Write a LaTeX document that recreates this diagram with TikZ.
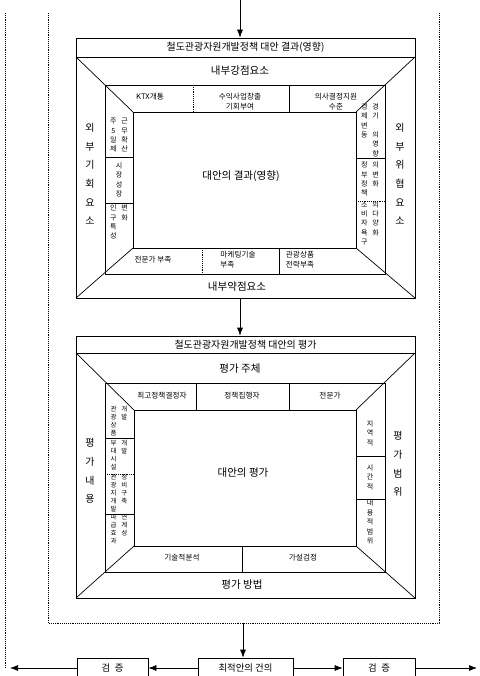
\documentclass[tikz,border=0pt]{standalone}
\usepackage{fontspec}
\setmainfont{Noto Sans CJK KR}
\usetikzlibrary{arrows.meta}

\newcommand{\vpair}[1]{\begin{tabular}{@{}c@{\hspace{4pt}}c@{}}#1\end{tabular}}

\tikzset{
  every node/.style={inner sep=0pt},
  frameline/.style={densely dotted},
  flow/.style={-{Latex[length=2.4mm,width=1.8mm]}},
  titletext/.style={font=\fontsize{8.5}{10}\selectfont},
  bandtext/.style={font=\fontsize{9}{11}\selectfont},
  subtext/.style={font=\fontsize{6.5}{8.5}\selectfont, align=center},
  vsmall/.style={font=\fontsize{6}{8}\selectfont, align=center},
  vtiny/.style={font=\fontsize{5.5}{6.7}\selectfont, align=center},
  vlabel/.style={font=\fontsize{8.5}{16}\selectfont, align=center},
  checkbox/.style={draw, minimum width=#1, minimum height=0.6cm, font=\fontsize{8}{10}\selectfont},
}

\begin{document}
\begin{tikzpicture}[x=0.03cm, y=-0.03cm, line width=0.6pt]
  \useasboundingbox (0,0) rectangle (480,676);

  % outer frames
  \draw[frameline] (5,13) -- (5,668);
  \draw[frameline] (48,13) -- (48,623) -- (439,623) -- (439,13);

  % block 1: result of the alternatives
  \draw (76,38) rectangle (415,298);
  \draw (76,57) -- (415,57);
  \draw (105,85) rectangle (385,274);
  \draw (133,112) rectangle (356,248);
  \draw (76,57) -- (133,112);
  \draw (415,57) -- (356,112);
  \draw (76,298) -- (133,248);
  \draw (415,298) -- (356,248);
  \draw[densely dotted] (193,85) -- (193,112);
  \draw (289,85) -- (289,112);
  \draw[densely dotted] (202,248) -- (202,274);
  \draw (279,248) -- (279,274);
  \draw (105,157) -- (133,157);
  \draw (105,203) -- (133,203);
  \draw (356,158) -- (385,158);
  \draw[densely dotted] (356,201) -- (385,201);

  \node[titletext, minimum width=10.17cm, minimum height=0.57cm] (title1) at (245.5,47.5) {철도관광자원개발정책 대안 결과(영향)};
  \node[bandtext] (strength) at (240,71) {내부강점요소};
  \node[bandtext] (weakness) at (237,287) {내부약점요소};
  \node[bandtext] (result) at (241,176) {대안의 결과(영향)};
  \node[vlabel] (chance) at (90,174) {외\\부\\기\\회\\요\\소};
  \node[vlabel] (threat) at (400,174) {외\\부\\위\\협\\요\\소};

  \node[subtext] (ktx) at (150,97) {KTX개통};
  \node[subtext] (profit) at (240,102) {수익사업창출\\기회부여};
  \node[subtext] (decide) at (336,102) {의사결정지원\\수준};
  \node[subtext] (expert1) at (153,260) {전문가 부족};
  \node[subtext, align=left] (market) at (238,260) {마케팅기술\\부족};
  \node[subtext, align=left] (goods) at (300,260) {관광상품\\전략부족};

  \node[vsmall] (week) at (119,136) {\vpair{주&근\\5&무\\일&확\\제&산}};
  \node[vsmall] (grow) at (119,180) {시\\장\\성\\장};
  \node[vsmall] (people) at (119,223) {\vpair{인&변\\구&화\\특&\\성&}};
  \node[vsmall] (econ) at (370,131) {\vpair{경&경\\제&기\\변&\\동&의\\&영\\&향}};
  \node[vsmall] (policy) at (370,180) {\vpair{정&의\\부&변\\정&화\\책&}};
  \node[vsmall] (needs) at (370,224) {\vpair{소&의\\비&다\\자&양\\욕&화\\구&}};

  % block 2: evaluation of the alternatives
  \draw (76,336) rectangle (415,598);
  \draw (76,353) -- (415,353);
  \draw (105,383) rectangle (385,572);
  \draw (134,410) rectangle (356,546);
  \draw (76,353) -- (134,410);
  \draw (415,353) -- (356,410);
  \draw (76,598) -- (134,546);
  \draw (415,598) -- (356,546);
  \draw (196,383) -- (196,410);
  \draw (289,383) -- (289,410);
  \draw (242,546) -- (242,572);
  \draw (105,438) -- (134,438);
  \draw[densely dotted] (105,474) -- (134,474);
  \draw (105,514) -- (134,514);
  \draw (356,456) -- (385,456);
  \draw (356,499) -- (385,499);

  \node[titletext, minimum width=10.17cm, minimum height=0.51cm] (title2) at (245.5,344.5) {철도관광자원개발정책 대안의 평가};
  \node[bandtext] (subject) at (240,369) {평가 주체};
  \node[bandtext] (method) at (242,585) {평가 방법};
  \node[bandtext] (evalc) at (243,473) {대안의 평가};
  \node[vlabel] (content) at (90,471) {평\\가\\내\\용};
  \node[vlabel] (range) at (398,464) {평\\가\\범\\위};

  \node[subtext] (top) at (162,396) {최고정책결정자};
  \node[subtext] (exec) at (242,396) {정책집행자};
  \node[subtext] (expert2) at (330,396) {전문가};
  \node[subtext] (tech) at (182,558) {기술적분석};
  \node[subtext] (hypo) at (303,558) {가설검정};

  \node[vtiny] (prod) at (119,422) {\vpair{관&개\\광&발\\상&\\품&}};
  \node[vtiny] (facil) at (119,456) {\vpair{부&개\\대&발\\시&\\설&}};
  \node[vtiny] (site) at (119,494) {\vpair{관&정\\광&비\\지&구\\개&축\\발&}};
  \node[vtiny] (effect) at (119,530) {\vpair{파&연\\급&계\\효&성\\과&}};
  \node[vsmall] (region) at (370,433) {지\\역\\적};
  \node[vsmall] (time) at (370,477) {시\\간\\적};
  \node[vsmall] (scope) at (370,522) {내\\용\\적\\범\\위};

  % flow between the blocks
  \coordinate (start) at (240,0);
  \coordinate (out1) at (240,298);
  \coordinate (out2) at (243,623);
  \coordinate (leftend) at (10,668);
  \coordinate (rightend) at (477,668);
  \node[checkbox=2.85cm] (best) at (245.5,668) {최적안의 건의};
  \node[checkbox=2.13cm] (check1) at (112.5,668) {검\enspace 증};
  \node[checkbox=2.16cm] (check2) at (379,668) {검\enspace 증};

  \draw[flow] (start) -- (start |- title1.north);
  \draw[flow] (out1) -- (out1 |- title2.north);
  \draw[flow] (out2) -- (out2 |- best.north);
  \draw[flow] (best.west) -- (check1.east);
  \draw[flow] (check1.west) -- (leftend);
  \draw[flow] (best.east) -- (check2.west);
  \draw[flow] (check2.east) -- (rightend);
\end{tikzpicture}
\end{document}
